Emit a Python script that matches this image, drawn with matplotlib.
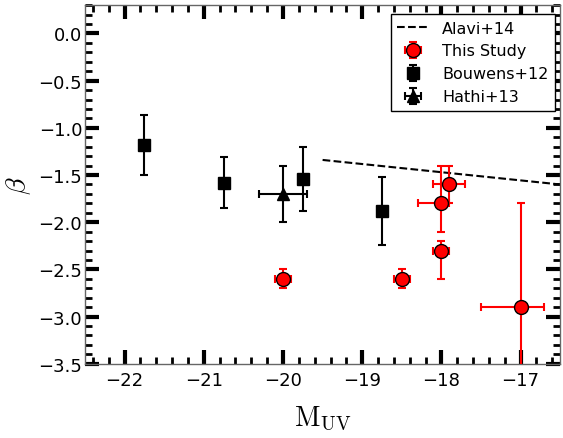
import numpy as np
import matplotlib
matplotlib.use("Agg")
import matplotlib.pyplot as plt
from matplotlib.ticker import MultipleLocator

plt.rcParams["mathtext.fontset"] = "cm"

# This Study
study_m = [-20.0, -18.5, -18.0, -18.0, -17.9, -17.0]
study_beta = [-2.6, -2.6, -2.3, -1.8, -1.6, -2.9]
study_beta_lo = [0.1, 0.1, 0.3, 0.3, 0.2, 1.1]
study_beta_hi = [0.1, 0.1, 0.1, 0.4, 0.2, 1.1]
study_m_lo = [0.1, 0.1, 0.1, 0.3, 0.2, 0.5]
study_m_hi = [0.1, 0.1, 0.1, 0.1, 0.2, 0.3]

# Bouwens+12
bouwens_m = [-21.75, -20.75, -19.75, -18.75]
bouwens_beta = [-1.18, -1.58, -1.54, -1.88]
bouwens_err = [0.32, 0.27, 0.34, 0.36]

# Hathi+13
hathi_m = [-20.0]
hathi_beta = [-1.70]
hathi_beta_err = [0.3]
hathi_m_err = [0.3]

# Alavi+14 relation
alavi_m = [-19.5, -16.5]
alavi_beta = [-1.34, -1.60]

fig = plt.figure(figsize=(5.63, 4.39), dpi=100)
ax = fig.add_axes([0.151, 0.169, 0.844, 0.817])

ax.plot(alavi_m, alavi_beta, "k--", lw=1.5, label="Alavi+14")

ax.errorbar(study_m, study_beta,
            yerr=[study_beta_lo, study_beta_hi],
            xerr=[study_m_lo, study_m_hi],
            fmt="o", color="r", mfc="r", mec="k", ms=10,
            elinewidth=1.5, capsize=3, capthick=1.5, zorder=4,
            label="This Study")

ax.errorbar(bouwens_m, bouwens_beta, yerr=bouwens_err,
            fmt="s", color="k", ms=8, elinewidth=1.5,
            capsize=3, capthick=1.5, label="Bouwens+12")

ax.errorbar(hathi_m, hathi_beta, yerr=hathi_beta_err, xerr=hathi_m_err,
            fmt="^", color="k", ms=8, elinewidth=1.5,
            capsize=3, capthick=1.5, label="Hathi+13")

ax.set_xlim(-22.5, -16.5)
ax.set_ylim(-3.5, 0.3)
ax.xaxis.set_major_locator(MultipleLocator(1))
ax.xaxis.set_minor_locator(MultipleLocator(0.2))
ax.yaxis.set_major_locator(MultipleLocator(0.5))
ax.yaxis.set_minor_locator(MultipleLocator(0.1))

ax.tick_params(which="both", direction="in", top=True, right=True,
               labelsize=13, colors="k")
ax.tick_params(which="major", length=10, width=3)
ax.tick_params(axis="y", which="major", pad=2)
ax.tick_params(axis="x", which="major", pad=5)
ax.tick_params(which="minor", length=5, width=2)
for sp in ax.spines.values():
    sp.set_color("0.4")
    sp.set_linewidth(1)

ax.set_xlabel(r"$\mathrm{M_{UV}}$", fontsize=20, labelpad=11)
ax.set_ylabel(r"$\beta$", fontsize=20, labelpad=4)

leg = ax.legend(loc="upper right", bbox_to_anchor=(0.989, 0.975),
                numpoints=1, fontsize=11.5, fancybox=False, framealpha=1,
                borderaxespad=0)
leg.get_frame().set_edgecolor("k")

fig.savefig("out.png", dpi=100)
